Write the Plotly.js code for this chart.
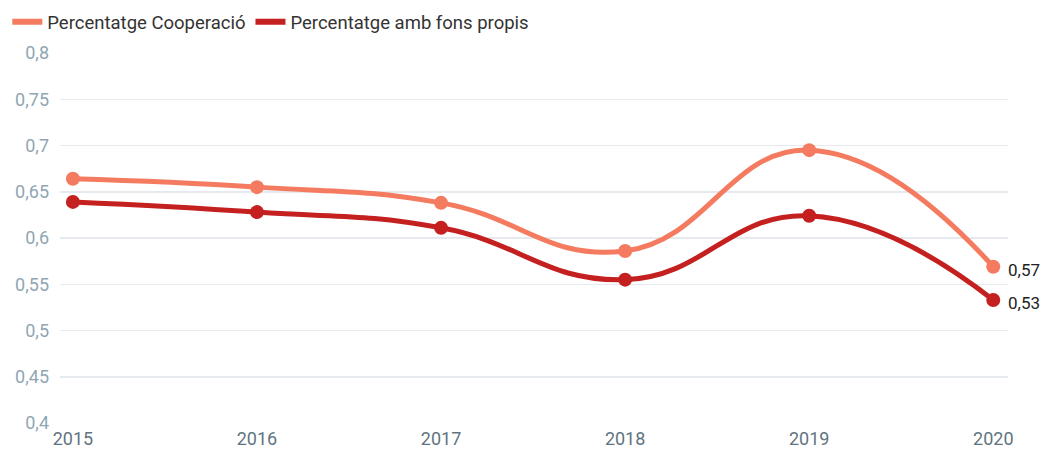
<!DOCTYPE html>
<html><head><meta charset="utf-8">
<script src="https://cdn.plot.ly/plotly-3.0.1.min.js"></script>
<style>body{margin:0;background:#fff}#c{width:1044px;height:451px}</style>
</head><body><div id="c"></div>
<script>
const years = [2015, 2016, 2017, 2018, 2019, 2020];
const cooperacio = [0.664, 0.655, 0.638, 0.586, 0.695, 0.569];
const fonsPropis = [0.639, 0.628, 0.611, 0.555, 0.624, 0.533];
const seriesNames = ['Percentatge Cooperació', 'Percentatge amb fons propis'];
const colors = ['#F47B60', '#C4201F'];

const mk = (y, i) => ({
  x: years, y: y, name: seriesNames[i], type: 'scatter', mode: 'lines+markers',
  line: {shape: 'spline', smoothing: 1.3, width: 5, color: colors[i]},
  marker: {size: 14, color: colors[i]}, cliponaxis: false, showlegend: false
});
const leg = i => ({
  x: [null], y: [null], name: seriesNames[i], type: 'scatter', mode: 'lines',
  line: {width: 6, color: colors[i]}, showlegend: true
});
const fmt = v => (Math.round(v * 100) / 100).toFixed(2).replace('.', ',');
const last = years.length - 1;

Plotly.newPlot('c', [leg(0), leg(1), mk(cooperacio, 0), mk(fonsPropis, 1)], {
  width: 1044, height: 451,
  margin: {l: 60, r: 36, t: 53, b: 28, autoexpand: false},
  separators: ',.',
  font: {family: 'Roboto, sans-serif', size: 17, color: '#333'},
  paper_bgcolor: '#fff', plot_bgcolor: '#fff',
  showlegend: true,
  legend: {orientation: 'h', xref: 'container', yref: 'container', x: 0.007, xanchor: 'left', y: 0.993, yanchor: 'top',
    font: {size: 18.5, color: '#333'}, itemwidth: 30, tracegroupgap: 0},
  xaxis: {range: [2014.93, 2020.08], tickvals: years, ticktext: years.map(String),
    showgrid: false, zeroline: false, showline: false, ticks: '',
    tickfont: {size: 18, color: '#5f7480'}, ticklabelstandoff: 3},
  yaxis: {range: [0.4, 0.8], dtick: 0.05, tick0: 0.4, showgrid: true, gridcolor: '#e6eaee',
    gridwidth: 1.5, zeroline: false, showline: false, ticks: '',
    tickfont: {size: 18, color: '#8fa6b4'}, ticklabelstandoff: 10},
  annotations: [
    {x: years[last], y: cooperacio[last], text: fmt(cooperacio[last]), xanchor: 'left', xshift: 13, yshift: -3, showarrow: false, font: {size: 17, color: '#222'}},
    {x: years[last], y: fonsPropis[last], text: fmt(fonsPropis[last]), xanchor: 'left', xshift: 13, yshift: -3, showarrow: false, font: {size: 17, color: '#222'}}
  ]
}, {displayModeBar: false, staticPlot: true});
</script></body></html>
